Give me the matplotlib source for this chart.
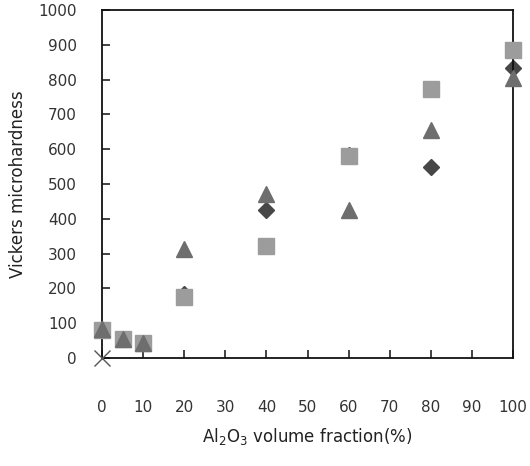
import matplotlib
matplotlib.use("Agg")
import matplotlib.pyplot as plt

# Al2O3 volume fraction (%)
x_square = [0, 5, 10, 20, 40, 60, 80, 100]
y_square = [80, 55, 44, 175, 322, 580, 772, 884]

x_triangle = [0, 5, 10, 20, 40, 60, 80, 100]
y_triangle = [82, 55, 42, 312, 470, 426, 656, 804]

x_diamond = [0, 5, 10, 20, 40, 60, 80, 100]
y_diamond = [80, 55, 44, 184, 424, 584, 549, 832]

x_cross = [0]
y_cross = [0]

x_ticks = list(range(0, 101, 10))
y_ticks = list(range(0, 1001, 100))

fig = plt.figure(figsize=(5.30, 4.66), dpi=100)
ax = fig.add_axes([102 / 530, 108 / 466, 411 / 530, 348 / 466])

ax.plot(x_diamond, y_diamond, linestyle="none", marker="D", markersize=8.5,
        color="#474747", zorder=2, clip_on=False)
ax.plot(x_square, y_square, linestyle="none", marker="s", markersize=11,
        color="#9c9c9c", zorder=3, clip_on=False)
ax.plot(x_triangle, y_triangle, linestyle="none", marker="^", markersize=12,
        color="#6e6e6e", zorder=4, clip_on=False)
ax.plot(x_cross, y_cross, linestyle="none", marker="x", markersize=11,
        color="#555555", markeredgewidth=1.0, zorder=5, clip_on=False)

ax.set_xlim(0, 100)
ax.set_ylim(0, 1000)
ax.set_xticks(x_ticks)
ax.set_yticks(y_ticks)
ax.tick_params(axis="x", direction="in", length=6, width=1.2, pad=30,
               labelsize=11, colors="#222222")
ax.tick_params(axis="y", direction="in", length=6, width=1.2, pad=18,
               labelsize=11, colors="#222222")
for s in ax.spines.values():
    s.set_linewidth(1.3)
    s.set_color("#111111")
for lab in ax.get_xticklabels() + ax.get_yticklabels():
    lab.set_color("#333333")

ax.set_xlabel("Al$_2$O$_3$ volume fraction(%)", fontsize=12, color="#222222",
              labelpad=8)
ax.set_ylabel("Vickers microhardness", fontsize=12, color="#222222",
              labelpad=8)

fig.savefig("out.png", dpi=100)
